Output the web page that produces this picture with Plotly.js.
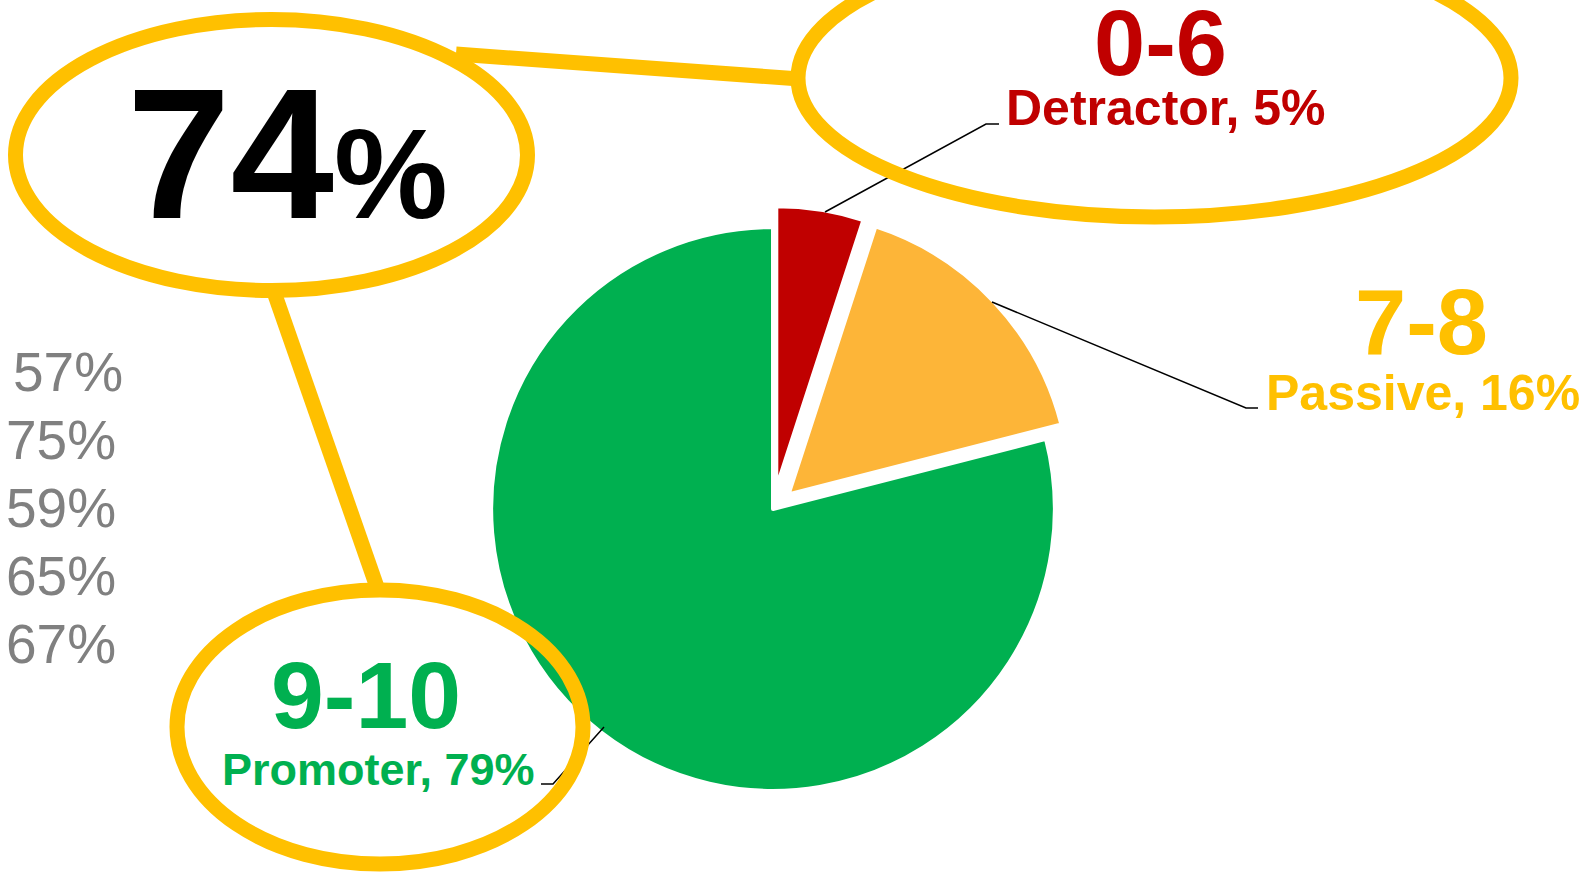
<!DOCTYPE html>
<html>
<head>
<meta charset="utf-8">
<script src="https://cdn.plot.ly/plotly-3.0.1.min.js"></script>
<style>
  html, body { margin: 0; padding: 0; background: #ffffff; }
  #graph { width: 1589px; height: 873px; }
</style>
</head>
<body>
<div id="graph"></div>
<script>
// NPS breakdown
const segments = ["Detractor", "Passive", "Promoter"];
const scoreRanges = ["0-6", "7-8", "9-10"];
const shares = [5, 16, 79];
const npsScore = 74;
const pastScores = [57, 75, 59, 65, 67];

const sliceColors = ["#C00000", "#FDB538", "#00B050"];
const labelColors = ["#C00000", "#FFC000", "#00B050"];
const gold = "#FFC000";

const W = 1589, H = 873;

// pie box in pixels (center 773,509)
const pieBox = { x0: 470, x1: 1076, y0: 206, y1: 812 };

const pie = {
  type: "pie",
  values: shares,
  labels: segments,
  sort: false,
  direction: "clockwise",
  rotation: 0,
  pull: [0.075, 0.075, 0],
  marker: { colors: sliceColors, line: { color: "#ffffff", width: 4 } },
  textinfo: "none",
  hoverinfo: "none",
  showlegend: false,
  domain: {
    x: [pieBox.x0 / W, pieBox.x1 / W],
    y: [1 - pieBox.y1 / H, 1 - pieBox.y0 / H]
  }
};

// label positions: range text and name text centres, font sizes
const labelPos = [
  { x: 1160, y: 43, nx: 1166, ny: 108, big: 92, small: 50 },
  { x: 1421, y: 322, nx: 1423, ny: 393, big: 92, small: 50 },
  { x: 366, y: 695, nx: 378, ny: 769, big: 95, small: 45 }
];

const annotations = [];
segments.forEach((seg, i) => {
  const p = labelPos[i];
  annotations.push({
    x: p.x, y: p.y, xref: "x", yref: "y", showarrow: false,
    xanchor: "center", yanchor: "middle",
    text: "<b>" + scoreRanges[i] + "</b>",
    font: { family: "Liberation Sans, Arial", size: p.big, color: labelColors[i] }
  });
  annotations.push({
    x: p.nx, y: p.ny, xref: "x", yref: "y", showarrow: false,
    xanchor: "center", yanchor: "middle",
    text: "<b>" + seg + ", " + shares[i] + "%</b>",
    font: { family: "Liberation Sans, Arial", size: p.small, color: labelColors[i] }
  });
});

// big NPS value
annotations.push({
  x: 287, y: 153, xref: "x", yref: "y", showarrow: false,
  xanchor: "center", yanchor: "middle",
  text: "<b>" + npsScore + "<span style='font-size:128px'>%</span></b>",
  font: { family: "Liberation Sans, Arial", size: 186, color: "#000000" }
});

// previous scores on the left
pastScores.forEach((v, i) => {
  annotations.push({
    x: i === 0 ? 11 : 4, y: 372 + i * 68, xref: "x", yref: "y", showarrow: false,
    xanchor: "left", yanchor: "middle",
    text: v + "%",
    font: { family: "Liberation Sans, Arial", size: 55, color: "#808080" }
  });
});

const leader = (pts) => ({
  type: "path", xref: "x", yref: "y",
  path: "M" + pts.map(p => p.join(",")).join(" L"),
  line: { color: "#000000", width: 1.5 }
});

const ellipse = (cx, cy, a, b) => ({
  type: "circle", xref: "x", yref: "y",
  x0: cx - a, x1: cx + a, y0: cy - b, y1: cy + b,
  line: { color: gold, width: 15 }
});

const connector = (x0, y0, x1, y1) => ({
  type: "line", xref: "x", yref: "y", x0, y0, x1, y1,
  line: { color: gold, width: 15 }
});

const shapes = [
  leader([[825, 212], [986, 124], [999, 124]]),
  leader([[992, 302], [1246, 408], [1258, 408]]),
  leader([[604, 727], [553, 784], [541, 784]]),
  connector(456, 54, 800, 79),
  connector(274, 292, 378, 590),
  ellipse(271.5, 155, 256, 135.5),
  ellipse(1154.5, 78, 356.5, 139),
  ellipse(380, 727, 203, 137)
];

const layout = {
  width: W,
  height: H,
  margin: { l: 0, r: 0, t: 0, b: 0 },
  paper_bgcolor: "#ffffff",
  plot_bgcolor: "rgba(0,0,0,0)",
  xaxis: { range: [0, W], visible: false, fixedrange: true },
  yaxis: { range: [H, 0], visible: false, fixedrange: true },
  showlegend: false,
  shapes: shapes,
  annotations: annotations
};

Plotly.newPlot("graph", [pie], layout, { displayModeBar: false, staticPlot: true });
</script>
</body>
</html>
